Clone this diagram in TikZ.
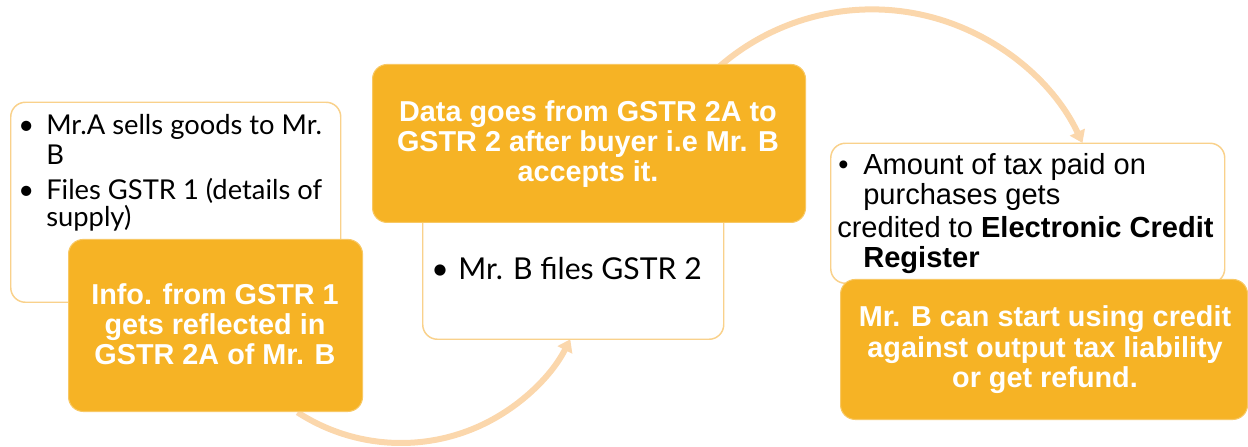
\documentclass[tikz,border=0pt]{standalone}
\usepackage{fontspec}
\setmainfont{Liberation Sans}
\newfontfamily\gill{Lato}
\usetikzlibrary{arrows.meta}
\definecolor{gold}{RGB}{246,179,37}
\definecolor{goldedge}{RGB}{248,200,100}
\definecolor{edge}{RGB}{249,209,139}
\definecolor{peach}{RGB}{251,215,172}
\begin{document}
\begin{tikzpicture}[x=0.75pt,y=0.75pt,
  whitebox/.style={draw=edge, line width=1.1pt, fill=white, rounded corners=11pt, anchor=south west, inner sep=0pt},
  goldbox/.style={fill=gold, draw=goldedge, line width=0.8pt, rounded corners=11pt, anchor=south west, inner sep=0pt},
  flow/.style={draw=peach, line width=4.5pt, -{Triangle[width=12pt,length=9pt]}},
  gtxt/.style={text=white, font=\fontsize{21.6}{22}\selectfont\bfseries, anchor=base, inner sep=0pt},
  ltxt/.style={font=\gill\fontsize{20.5}{22}\selectfont, anchor=base west, inner sep=0pt},
  mtxt/.style={font=\gill\fontsize{22.6}{24}\selectfont, anchor=base west, inner sep=0pt},
  atxt/.style={font=\fontsize{21.8}{22}\selectfont, anchor=base west, inner sep=0pt}]
\useasboundingbox (0,0) rectangle (1248,446);
% connectors (behind the boxes)
\coordinate (c1) at (401,193);
\coordinate (c2) at (872,204);
\draw[flow] ([shift={(237:142.5pt)}]c1) arc[start angle=237, end angle=333, radius=142.5pt];
\draw[flow] ([shift={(132:174.45pt)}]c2) arc[start angle=132, end angle=25.2, radius=174.45pt];
% left
\node[whitebox, minimum width=247.5pt, minimum height=150pt] (lw) at (10,143) {};
\node[goldbox, minimum width=220.5pt, minimum height=129pt] (lo) at (68,34) {};
% middle
\node[whitebox, minimum width=225.75pt, minimum height=100.5pt] (mw) at (422,106) {};
\node[goldbox, minimum width=324.75pt, minimum height=118.5pt] (mo) at (372,223) {};
% right
\node[whitebox, minimum width=295.5pt, minimum height=105pt] (rw) at (830,162) {};
\node[goldbox, minimum width=305.25pt, minimum height=105pt] (ro) at (840,26) {};
% left texts
\node[ltxt] (lb1) at (18,311) {•};
\node[ltxt] (l1) at (46,311) {Mr.A sells goods to Mr.};
\node[ltxt] (l2) at (46,281) {B};
\node[ltxt] (lb2) at (18,246) {•};
\node[ltxt] (l3) at (46,246) {Files GSTR 1 (details of};
\node[ltxt] (l4) at (46,219) {supply)};
\node[gtxt] (lo1) at (215,141) {Info. from GSTR 1};
\node[gtxt] (lo2) at (215,111) {gets reflected in};
\node[gtxt] (lo3) at (215,81) {GSTR 2A of Mr. B};
% middle texts
\node[gtxt] (mo1) at (588,324) {Data goes from GSTR 2A to};
\node[gtxt] (mo2) at (588,294) {GSTR 2 after buyer i.e Mr. B};
\node[gtxt] (mo3) at (588,264) {accepts it.};
\node[mtxt] (mb1) at (431,166) {•};
\node[mtxt] (m1) at (458,166) {Mr. B files GSTR 2};
% right texts
\node[atxt] (rb1) at (838,271) {•};
\node[atxt] (r1) at (863,271) {Amount of tax paid on};
\node[atxt] (r2) at (863,241) {purchases gets};
\node[atxt] (r3) at (837,208) {credited to \textbf{Electronic Credit}};
\node[atxt] (r4) at (863,178) {\textbf{Register}};
\node[gtxt] (ro1) at (1045,119) {Mr. B can start using credit};
\node[gtxt] (ro2) at (1045,89) {against output tax liability};
\node[gtxt] (ro3) at (1045,59) {or get refund.};
\end{tikzpicture}
\end{document}
